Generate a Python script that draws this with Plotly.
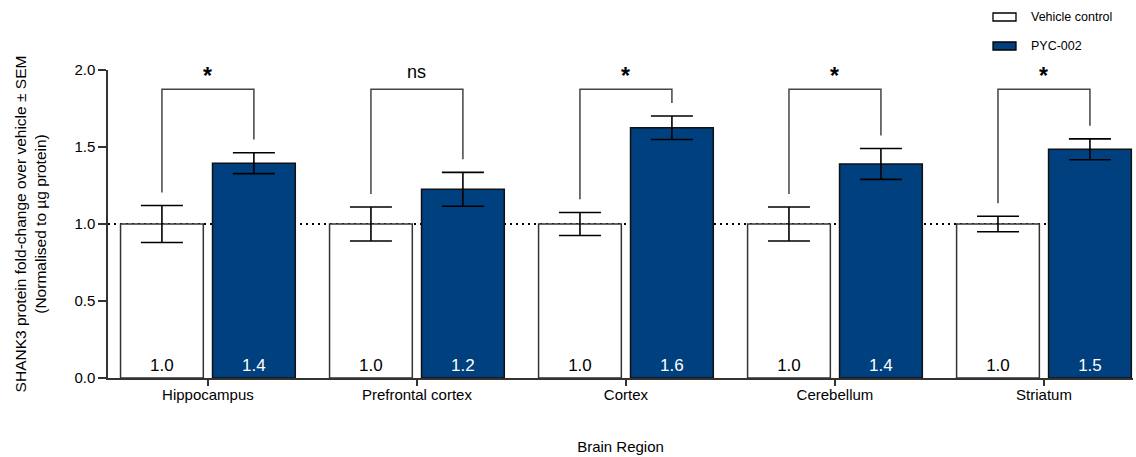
import plotly.graph_objects as go

# ---------------- data ----------------
categories = ["Hippocampus", "Prefrontal cortex", "Cortex", "Cerebellum", "Striatum"]
vehicle_mean = [1.0, 1.0, 1.0, 1.0, 1.0]
vehicle_sem = [0.12, 0.11, 0.075, 0.11, 0.05]
pyc_mean = [1.395, 1.225, 1.625, 1.39, 1.485]
pyc_sem = [0.068, 0.11, 0.076, 0.10, 0.068]
significance = ["*", "ns", "*", "*", "*"]
y_ticks = [0.0, 0.5, 1.0, 1.5, 2.0]
series_names = ["Vehicle control", "PYC-002"]

# ---------------- style ----------------
FONT = "Liberation Sans, Arial, sans-serif"
BLUE = "#00407e"
W, H = 1136, 457
M = dict(l=108, r=3, t=70, b=79)
BARGAP, GROUPGAP = 0.12, 0.10
BRACKET_Y = 1.875
LEG_GAP = 0.085

fig = go.Figure()
fig.add_trace(go.Bar(
    name=series_names[0], x=categories, y=vehicle_mean,
    marker=dict(color="white", line=dict(color="#333333", width=1.5)),
    error_y=dict(type="data", array=vehicle_sem, visible=True, color="black", thickness=1.6, width=21),
    texttemplate="%{y:.1f}", textposition="inside", insidetextanchor="start",
    textfont=dict(color="black", size=17, family=FONT), showlegend=False,
))
fig.add_trace(go.Bar(
    name=series_names[1], x=categories, y=pyc_mean,
    marker=dict(color=BLUE, line=dict(color="#111111", width=1.5)),
    error_y=dict(type="data", array=pyc_sem, visible=True, color="black", thickness=1.6, width=21),
    texttemplate="%{y:.1f}", textposition="inside", insidetextanchor="start",
    textfont=dict(color="white", size=17, family=FONT), showlegend=False,
))

# reference line at 1.0
fig.add_shape(type="line", xref="paper", yref="y", x0=0, x1=1, y0=1.0, y1=1.0,
              line=dict(color="black", width=2, dash="2px,4px"), layer="below")

# significance brackets
off = (1 - BARGAP) / 4
for i, (vm, vs, pm, ps, s) in enumerate(zip(vehicle_mean, vehicle_sem, pyc_mean, pyc_sem, significance)):
    xl, xr = i - off, i + off
    yl = vm + vs + LEG_GAP
    yr = pm + ps + LEG_GAP
    fig.add_shape(type="path", xref="x", yref="y",
                  path=f"M {xl},{yl} L {xl},{BRACKET_Y} L {xr},{BRACKET_Y} L {xr},{yr}",
                  line=dict(color="#444444", width=1.5))
    is_ns = (s == "ns")
    fig.add_annotation(x=i, y=BRACKET_Y, xref="x", yref="y",
                       text=(s if is_ns else f"<b>{s}</b>"), showarrow=False,
                       yanchor="bottom", yshift=(5 if is_ns else -2),
                       font=dict(size=18 if is_ns else 23, family=FONT, color="black"))

# custom legend (rectangles + text)
pw = W - M["l"] - M["r"]
ph = H - M["t"] - M["b"]
def px_x(p):
    return (p - M["l"]) / pw
def px_y(p):
    return (H - M["b"] - p) / ph
leg_rows = [17, 46]
leg_fill = ["white", BLUE]
for yc, fill, name in zip(leg_rows, leg_fill, series_names):
    fig.add_shape(type="rect", xref="paper", yref="paper",
                  x0=px_x(993), x1=px_x(1016), y0=px_y(yc + 4), y1=px_y(yc - 4),
                  line=dict(color="black", width=1.3), fillcolor=fill)
    fig.add_annotation(xref="paper", yref="paper", x=px_x(1029), y=px_y(yc), text=name,
                       showarrow=False, xanchor="left", yanchor="middle",
                       font=dict(size=12.5, family=FONT, color="black"))

fig.update_layout(
    width=W, height=H, margin=M,
    paper_bgcolor="white", plot_bgcolor="white",
    barmode="group", bargap=BARGAP, bargroupgap=GROUPGAP,
    font=dict(family=FONT, size=15, color="black"),
    showlegend=False,
    uniformtext=dict(mode=False),
)
fig.update_xaxes(
    range=[-0.478, 4.426], showline=True, linecolor="#333333", linewidth=1.5,
    ticks="outside", ticklen=6, tickwidth=1.5, tickcolor="#333333",
    tickfont=dict(size=15, family=FONT), showgrid=False, ticklabelstandoff=-4,
    title=dict(text="Brain Region", font=dict(size=15, family=FONT), standoff=40),
)
fig.update_yaxes(
    range=[0, 2.0], tickvals=y_ticks, ticktext=[f"{v:.1f}" for v in y_ticks],
    showline=True, linecolor="#333333", linewidth=1.5,
    ticks="outside", ticklen=8, tickwidth=1.5, tickcolor="#333333",
    tickfont=dict(size=15, family=FONT), showgrid=False, zeroline=False,
    title=dict(text="SHANK3 protein fold-change over vehicle ± SEM<br>(Normalised to µg protein)",
               font=dict(size=15.5, family=FONT), standoff=24),
)

fig.write_html("out.html", config={"displayModeBar": False},
               post_script="document.body.style.margin='0';document.body.style.overflow='hidden';")
